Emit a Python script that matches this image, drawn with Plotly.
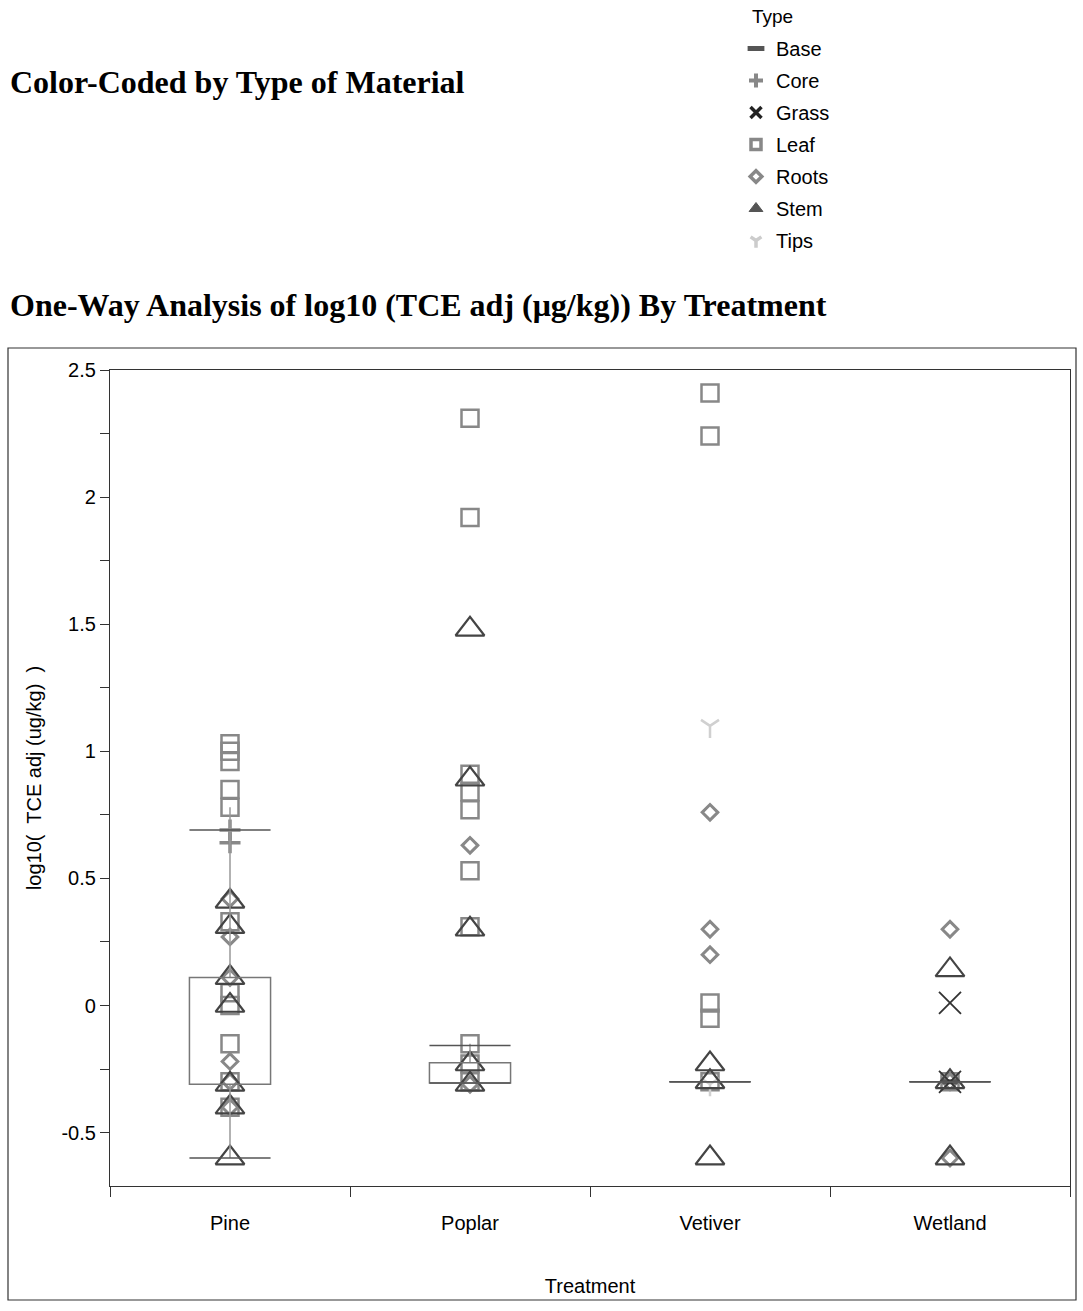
import plotly.graph_objects as go

# Treatment groups on the x axis
treatments = ["Pine", "Poplar", "Vetiver", "Wetland"]

# log10(TCE adj) observations, one pair of lists per material type
base_trt = ["Wetland"]
base_val = [-0.30]

core_trt = ["Pine", "Pine"]
core_val = [0.69, 0.64]

grass_trt = ["Wetland", "Wetland"]
grass_val = [0.01, -0.30]

leaf_trt = ["Pine", "Pine", "Pine", "Pine", "Pine", "Pine", "Pine", "Pine", "Pine", "Pine", "Pine",
            "Poplar", "Poplar", "Poplar", "Poplar", "Poplar", "Poplar", "Poplar", "Poplar", "Poplar", "Poplar",
            "Vetiver", "Vetiver", "Vetiver", "Vetiver", "Vetiver",
            "Wetland"]
leaf_val = [1.03, 1.00, 0.96, 0.85, 0.78, 0.33, 0.05, 0.00, -0.15, -0.30, -0.40,
            2.31, 1.92, 0.91, 0.84, 0.77, 0.53, 0.31, -0.15, -0.23, -0.30,
            2.41, 2.24, 0.01, -0.05, -0.30,
            -0.30]

roots_trt = ["Pine", "Pine", "Pine", "Pine", "Pine", "Pine",
             "Poplar", "Poplar",
             "Vetiver", "Vetiver", "Vetiver",
             "Wetland", "Wetland", "Wetland"]
roots_val = [0.42, 0.27, 0.11, -0.22, -0.30, -0.40,
             0.63, -0.31,
             0.76, 0.30, 0.20,
             0.30, -0.30, -0.60]

stem_trt = ["Pine", "Pine", "Pine", "Pine", "Pine", "Pine", "Pine",
            "Poplar", "Poplar", "Poplar", "Poplar", "Poplar",
            "Vetiver", "Vetiver", "Vetiver",
            "Wetland", "Wetland", "Wetland"]
stem_val = [0.41, 0.31, 0.11, 0.00, -0.31, -0.40, -0.60,
            1.48, 0.89, 0.30, -0.23, -0.31,
            -0.23, -0.30, -0.60,
            0.14, -0.30, -0.60]

tips_trt = ["Vetiver", "Vetiver"]
tips_val = [1.10, -0.31]

# Quantile summaries per treatment (10th, 25th, 75th, 90th) and whisker tops
q10 = [-0.60, -0.305, -0.30, -0.30]
q25 = [-0.31, -0.305, -0.30, -0.30]
q75 = [0.11, -0.225, -0.30, -0.30]
q90 = [0.69, -0.157, -0.30, -0.30]
whisker_top = [0.78, -0.15, -0.30, -0.30]

# y axis ticks
y_tickvals = [-0.5, 0, 0.5, 1, 1.5, 2, 2.5]
y_ticktext = ["-0.5", "0", "0.5", "1", "1.5", "2", "2.5"]
y_minorvals = [-0.75, -0.25, 0.25, 0.75, 1.25, 1.75, 2.25]

SANS = "Liberation Sans, Arial, sans-serif"
SERIF = "Liberation Serif, Times New Roman, serif"

# plot-area geometry in pixels (used to convert page positions to paper units)
W, H = 1083, 1311
L, R, T, B = 110, 13, 370, 125
PW, PH = W - L - R, H - T - B


def px_x(px):
    return (px - L) / PW


def px_y(py):
    return (H - B - py) / PH


fig = go.Figure()

# quantile boxes, whiskers and 10/90 lines
half = 0.169
shapes = []
for i, trt in enumerate(treatments):
    shapes.append(dict(type="line", xref="x", yref="y", x0=trt, x1=trt,
                       y0=q75[i], y1=whisker_top[i], line=dict(color="#999999", width=1.5)))
    shapes.append(dict(type="line", xref="x", yref="y", x0=trt, x1=trt,
                       y0=q10[i], y1=q25[i], line=dict(color="#999999", width=1.5)))
    shapes.append(dict(type="rect", xref="x", yref="y", x0=trt, x1=trt,
                       x0shift=-half, x1shift=half, y0=q25[i], y1=q75[i],
                       line=dict(color="#777777", width=1.5)))
    for q in (q10[i], q90[i]):
        shapes.append(dict(type="line", xref="x", yref="y", x0=trt, x1=trt,
                           x0shift=-half, x1shift=half, y0=q, y1=q,
                           line=dict(color="#555555", width=1.5)))

# outer frame around the chart
shapes.append(dict(type="rect", xref="paper", yref="paper",
                   x0=px_x(8), x1=px_x(1076), y0=px_y(1300), y1=px_y(348),
                   line=dict(color="#333333", width=1.2), layer="below"))


def add_points(xs, ys, symbol, size, color, lw, fill=None):
    fig.add_trace(go.Scatter(
        x=xs, y=ys, mode="markers", showlegend=False, hoverinfo="x+y",
        marker=dict(symbol=symbol, size=size,
                    color=fill if fill else color,
                    line=dict(color=color, width=lw)),
        cliponaxis=False,
    ))


def add_key(name, symbol, size, color, lw, rank):
    # legend-only entry with a heavier glyph
    fig.add_trace(go.Scatter(
        x=[None], y=[None], mode="markers", name=name, legendrank=rank,
        legendgroup=name,
        marker=dict(symbol=symbol, size=size, color=color,
                    line=dict(color=color, width=lw)),
    ))


add_points(leaf_trt, leaf_val, "square-open", 17, "#888888", 2.5)
add_points(core_trt, core_val, "cross-thin-open", 15, "#888888", 3.5)
add_points(roots_trt, roots_val, "diamond-open", 12, "#888888", 3)
add_points(tips_trt, tips_val, "y-down-open", 15, "#d0d0d0", 2.5)
add_points(base_trt, base_val, "line-ew-open", 11, "#555555", 5)
add_points(grass_trt, grass_val, "x-thin-open", 22, "#333333", 1.8)
add_points(stem_trt, stem_val, "triangle-up-open", 25, "#444444", 2.2)

add_key("Base", "line-ew-open", 12, "#555555", 6, 1)
add_key("Core", "cross-thin-open", 10, "#888888", 4, 2)
add_key("Grass", "x-thin-open", 11, "#222222", 3.5, 3)
add_key("Leaf", "square-open", 10, "#888888", 3.5, 4)
add_key("Roots", "diamond-open", 9, "#888888", 3.5, 5)
add_key("Stem", "triangle-up", 12, "#555555", 1, 6)
add_key("Tips", "y-down-open", 9, "#cccccc", 3.5, 7)

fig.update_layout(
    width=W, height=H,
    margin=dict(l=L, r=R, t=T, b=B, autoexpand=False),
    paper_bgcolor="white", plot_bgcolor="white",
    font=dict(family=SANS, size=20, color="black"),
    shapes=shapes,
    showlegend=True,
    legend=dict(
        x=px_x(736), y=px_y(29), xanchor="left", yanchor="top",
        font=dict(family=SANS, size=20),
        tracegroupgap=3, itemsizing="trace",
        bgcolor="rgba(0,0,0,0)",
    ),
    annotations=[
        dict(text="Type", xref="paper", yref="paper",
             x=px_x(750), y=px_y(16), xanchor="left", yanchor="middle", showarrow=False,
             font=dict(family=SANS, size=19, color="black")),
        dict(text="<b>Color-Coded by Type of Material</b>", xref="paper", yref="paper",
             x=px_x(8), y=px_y(82), xanchor="left", yanchor="middle", showarrow=False,
             font=dict(family=SERIF, size=32, color="black")),
        dict(text="<b>One-Way Analysis of log10 (TCE adj (\u03bcg/kg)) By Treatment</b>",
             xref="paper", yref="paper",
             x=px_x(8), y=px_y(305), xanchor="left", yanchor="middle", showarrow=False,
             font=dict(family=SERIF, size=32, color="black")),
    ],
)

fig.update_xaxes(
    type="category", categoryorder="array", categoryarray=treatments,
    range=[-0.5, 3.5],
    showline=True, linecolor="#333333", linewidth=1.2, mirror=True,
    ticks="outside", tickson="boundaries", ticklen=10, tickcolor="#333333",
    ticklabelstandoff=19,
    showgrid=False, zeroline=False,
    title=dict(text="Treatment", standoff=45, font=dict(family=SANS, size=20)),
)

fig.update_yaxes(
    range=[-0.71, 2.5],
    tickvals=y_tickvals, ticktext=y_ticktext,
    showline=True, linecolor="#333333", linewidth=1.2, mirror=True,
    ticks="outside", ticklen=9, tickcolor="#333333",
    minor=dict(tickvals=y_minorvals, ticks="outside",
               ticklen=9, tickcolor="#333333", showgrid=False),
    showgrid=False, zeroline=False,
    title=dict(text="log10(  TCE adj (ug/kg)  )", standoff=14, font=dict(family=SANS, size=20)),
)

fig.write_html("out.html")
